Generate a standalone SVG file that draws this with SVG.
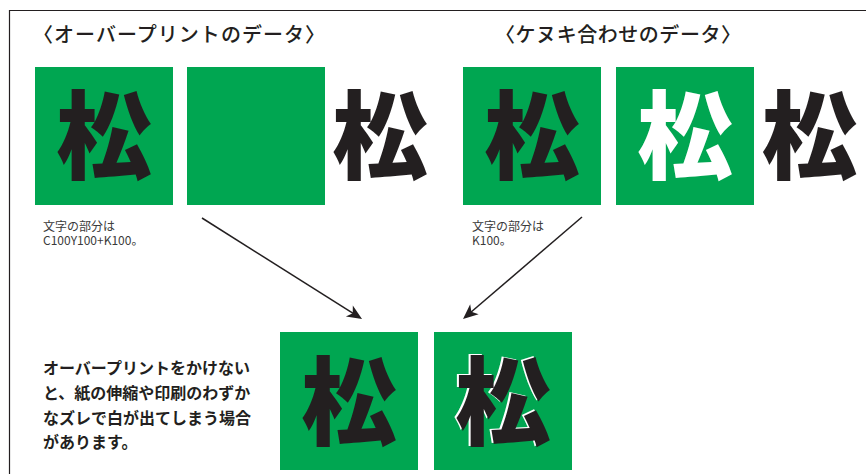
<svg xmlns="http://www.w3.org/2000/svg" width="866" height="474" viewBox="0 0 866 474">
<style>
.sq{fill:#00a651}
.k{font-family:"Noto Sans CJK JP","Noto Sans CJK SC",sans-serif;font-weight:900;font-size:96px;text-anchor:middle;fill:#231f20}
.w{fill:#ffffff}
.title{font-family:"Noto Sans CJK JP",sans-serif;font-size:20px;font-weight:500;fill:#231f20}
.lab{font-family:"Noto Sans CJK JP",sans-serif;font-size:12px;fill:#3a3a3a}
.para{font-family:"Noto Sans CJK JP",sans-serif;font-size:16px;font-weight:700;fill:#231f20}
.arr{stroke:#231f20;stroke-width:1.5;fill:none}
</style>
<defs>
<marker id="ah" markerUnits="userSpaceOnUse" markerWidth="20" markerHeight="16" viewBox="-14 -8 20 16" refX="0" refY="0" orient="auto">
<path d="M3,0 L-12,-6.5 L-8,0 L-12,6.5 Z" fill="#231f20"/>
</marker>
</defs>
<rect width="866" height="474" fill="#ffffff"/>
<path d="M9.5,480 V10.5 H870" fill="none" stroke="#231f20" stroke-width="1.2"/>

<g id="title-overprint"><text class="title" x="33" y="42" textLength="292" lengthAdjust="spacing">〈オーバープリントのデータ〉</text></g>
<g id="title-kenuki"><text class="title" x="495" y="42" textLength="246" lengthAdjust="spacing">〈ケヌキ合わせのデータ〉</text></g>

<g id="op-k"><rect class="sq" x="35" y="67" width="138" height="138"/><text class="k" x="104" y="171">松</text></g>
<g id="op-c"><rect class="sq" x="187" y="67" width="138" height="138"/></g>
<g id="op-y"><text class="k" x="380" y="171">松</text></g>

<g id="kn-k"><rect class="sq" x="463" y="67" width="138" height="138"/><text class="k" x="532" y="171">松</text></g>
<g id="kn-c"><rect class="sq" x="616" y="67" width="138" height="138"/><text class="k w" x="685" y="171">松</text></g>
<g id="kn-y"><text class="k" x="809.5" y="171">松</text></g>

<g id="label-op"><text class="lab" x="43" y="231">文字の部分は</text><text class="lab" x="43" y="245">C100Y100+K100。</text></g>
<g id="label-kn"><text class="lab" x="472" y="231">文字の部分は</text><text class="lab" x="472" y="245">K100。</text></g>

<g id="result-op"><rect class="sq" x="280" y="332" width="138" height="138"/><text class="k" x="349" y="437">松</text></g>
<g id="result-kn"><rect class="sq" x="434" y="332" width="138" height="138"/><text class="k w" x="501" y="435.5">松</text><text class="k" x="503" y="437">松</text></g>

<g id="note"><text class="para" x="43" y="374">オーバープリントをかけない</text><text class="para" x="43" y="399">と、紙の伸縮や印刷のわずか</text><text class="para" x="43" y="424">なズレで白が出てしまう場合</text><text class="para" x="43" y="448">があります。</text></g>

<g id="connectors">
<line class="arr" x1="202" y1="218" x2="359.5" y2="317.4" marker-end="url(#ah)"/>
<line class="arr" x1="582" y1="217" x2="465.3" y2="317" marker-end="url(#ah)"/>
</g>
</svg>
